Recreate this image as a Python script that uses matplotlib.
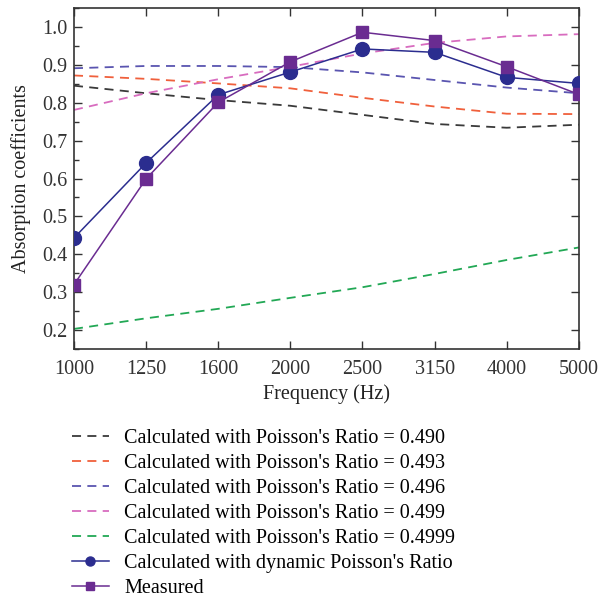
import matplotlib
matplotlib.use("Agg")
import matplotlib.pyplot as plt
from matplotlib.ticker import MultipleLocator

plt.rcParams['font.family'] = ['Liberation Serif', 'DejaVu Serif']

freqs = ["1000", "1250", "1600", "2000", "2500", "3150", "4000", "5000"]
nu_490 = [0.845, 0.825, 0.807, 0.792, 0.768, 0.744, 0.734, 0.742]
nu_493 = [0.872, 0.863, 0.851, 0.838, 0.813, 0.790, 0.771, 0.770]
nu_496 = [0.891, 0.897, 0.897, 0.894, 0.880, 0.860, 0.840, 0.825]
nu_499 = [0.781, 0.825, 0.862, 0.895, 0.930, 0.958, 0.975, 0.981]
nu_4999 = [0.203, 0.231, 0.256, 0.285, 0.313, 0.348, 0.385, 0.418]
dynamic = [0.443, 0.641, 0.821, 0.881, 0.942, 0.933, 0.867, 0.851]
measured = [0.320, 0.599, 0.801, 0.908, 0.986, 0.964, 0.895, 0.822]

labels = ["Calculated with Poisson's Ratio = 0.490",
          "Calculated with Poisson's Ratio = 0.493",
          "Calculated with Poisson's Ratio = 0.496",
          "Calculated with Poisson's Ratio = 0.499",
          "Calculated with Poisson's Ratio = 0.4999",
          "Calculated with dynamic Poisson's Ratio",
          "Measured"]
dash_colors = ['#3a3a3a', '#f0603c', '#5a55b0', '#d86cbf', '#22a855']

fig = plt.figure(figsize=(5.98, 5.98), dpi=100)
ax = fig.add_axes([0.1237, 0.4164, 0.968 - 0.1237, 0.9866 - 0.4164])

x = list(range(len(freqs)))
for vals, c, lab in zip([nu_490, nu_493, nu_496, nu_499, nu_4999], dash_colors, labels[:5]):
    ax.plot(x, vals, linestyle=(0, (5, 3.5)), color=c, lw=1.3, label=lab)
ax.plot(x, dynamic, '-o', color='#2b2d8f', lw=1.1, markersize=10, label=labels[5], zorder=5)
ax.plot(x, measured, '-s', color='#6a2c91', lw=1.1, markersize=9, label=labels[6], zorder=6)

ax.set_xlim(0, 7)
ax.set_ylim(0.15, 1.05)
ax.set_xticks(x)
ax.set_xticklabels(freqs)
ax.yaxis.set_minor_locator(MultipleLocator(0.05))
ax.set_yticks([0.2, 0.3, 0.4, 0.5, 0.6, 0.7, 0.8, 0.9, 1.0])
ax.set_yticklabels(["0.2", "0.3", "0.4", "0.5", "0.6", "0.7", "0.8", "0.9", "1.0"])
ax.tick_params(axis='both', which='both', direction='in', labelsize=14.5, colors='#333333')
ax.tick_params(axis='both', which='major', length=6, width=1)
ax.tick_params(axis='y', which='minor', length=3.5, width=1)
ax.tick_params(axis='x', pad=8)
ax.tick_params(axis='y', pad=5)
ax.tick_params(top=True, labeltop=False)
ax.tick_params(axis='y', which='major', right=True, labelright=False)
for s in ax.spines.values():
    s.set_linewidth(1.2)
    s.set_color('#333333')

ax.set_xlabel("Frequency (Hz)", fontsize=14.5, color='#222222', labelpad=4)
ax.set_ylabel("Absorption coefficients", fontsize=14.5, color='#222222', labelpad=8)

handles, labs = ax.get_legend_handles_labels()
fig.legend(handles, labs, loc='upper left', bbox_to_anchor=(0.12, 0.282), frameon=False,
           fontsize=14.5, handlelength=1.85, handletextpad=0.75, labelspacing=0.29,
           borderaxespad=0, borderpad=0, markerscale=0.65)

fig.savefig("out.png", dpi=100)
